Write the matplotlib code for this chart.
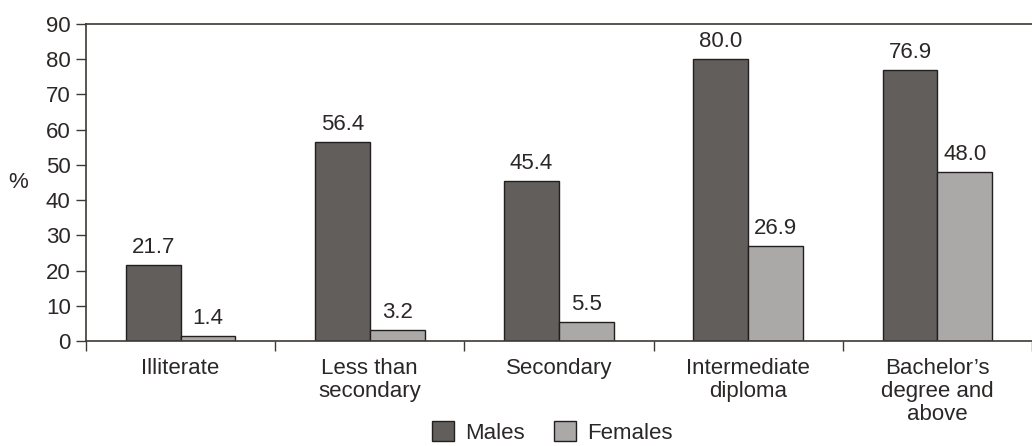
import numpy as np
import matplotlib.pyplot as plt
from matplotlib.patches import Patch

plt.rcParams['font.family'] = ['Liberation Sans', 'DejaVu Sans']

categories = ['Illiterate', 'Less than\nsecondary', 'Secondary',
              'Intermediate\ndiploma', 'Bachelor\u2019s\ndegree and\nabove']
males = [21.7, 56.4, 45.4, 80.0, 76.9]
females = [1.4, 3.2, 5.5, 26.9, 48.0]

male_col = '#625e5b'
female_col = '#aaa9a7'
edge_col = '#231f20'
axis_col = '#3d3935'
text_col = '#2b2727'
fs = 16

fig = plt.figure(figsize=(10.32, 4.46), dpi=100)
ax = fig.add_axes([86 / 1032, 1 - 341 / 446, 1 - 86 / 1032, (341 - 24) / 446])

x = np.arange(len(categories))
w = 0.29
b1 = ax.bar(x - w / 2, males, w, color=male_col, edgecolor=edge_col, linewidth=1.0)
b2 = ax.bar(x + w / 2, females, w, color=female_col, edgecolor=edge_col, linewidth=1.0)

for bars, vals in ((b1, males), (b2, females)):
    for r, v in zip(bars, vals):
        ax.annotate(f'{v:.1f}', (r.get_x() + r.get_width() / 2, v),
                    xytext=(0, 5), textcoords='offset points',
                    ha='center', va='bottom', fontsize=fs, color=text_col)

ax.set_ylim(0, 90)
ax.set_yticks(range(0, 91, 10))
ax.set_xlim(-0.5, 4.435)

# category boundaries carry the ticks, names sit at the centres
ax.set_xticks(np.arange(-0.5, 5, 1.0))
ax.set_xticklabels([])
ax.set_xticks(x, minor=True)
ax.set_xticklabels(categories, minor=True, fontsize=fs, color=text_col,
                   linespacing=1.15)
ax.tick_params(axis='x', which='minor', length=0, pad=12)
ax.tick_params(axis='x', which='major', length=7, width=1.0, color=axis_col)
ax.tick_params(axis='y', length=7, width=1.0, color=axis_col, labelsize=fs,
               labelcolor=text_col, pad=4)

for s in ('left', 'top', 'bottom'):
    ax.spines[s].set_color(axis_col)
    ax.spines[s].set_linewidth(1.2)
ax.spines['right'].set_visible(False)

fig.text(18 / 1032, 1 - 183 / 446, '%', fontsize=fs, color=text_col,
         ha='center', va='center')

handles = [Patch(facecolor=male_col, edgecolor=edge_col, label='Males'),
           Patch(facecolor=female_col, edgecolor=edge_col, label='Females')]
leg = fig.legend(handles=handles, loc='lower center', ncol=2,
                 bbox_to_anchor=(0.535, -0.04), frameon=False, fontsize=fs,
                 handlelength=1.0, handleheight=1.0, handletextpad=0.5,
                 columnspacing=1.3)
for t in leg.get_texts():
    t.set_color(text_col)

fig.savefig('out.png', dpi=100)
